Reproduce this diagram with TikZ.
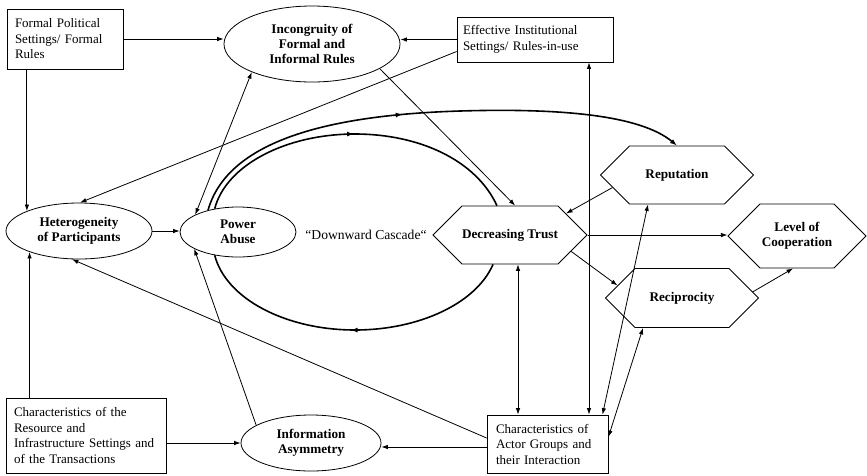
\documentclass[tikz,border=0pt]{standalone}
\usepackage{fontspec}
\setmainfont{Liberation Serif}
\usetikzlibrary{shapes.geometric,shapes.symbols,arrows.meta,decorations.markings,calc}
\begin{document}
\begin{tikzpicture}[x=1pt,y=-1pt,
  ln/.style={line width=0.8pt},
  arr/.style={ln,-{Latex[length=6.5pt,width=4.5pt]}},
  darr/.style={ln,{Latex[length=6.5pt,width=4.5pt]}-{Latex[length=6.5pt,width=4.5pt]}},
  casc/.style={line width=1.6pt},
  midarrow/.style={postaction={decorate},decoration={markings,mark=at position #1 with {\arrow{Latex[length=7pt,width=5pt]}}}},
  box/.style={draw,line width=0.8pt,rectangle,align=left,font=\fontsize{13}{15.5}\selectfont,inner ysep=2pt},
  ell/.style={draw,line width=0.8pt,ellipse,inner sep=0pt,align=center,font=\fontsize{13.2}{14.8}\selectfont\bfseries},
  hex/.style={draw,line width=0.8pt,signal,signal to=west and east,signal pointer angle=90,inner sep=0pt,align=center,font=\fontsize{13.2}{14.8}\selectfont\bfseries},
]
\useasboundingbox (0,0) rectangle (867,475);

% nodes
\node[box,inner xsep=8pt,text width=100pt,minimum height=60pt] (FP) at (65,39) {Formal Political\\Settings/ Formal\\Rules};
\node[ell,minimum width=176pt,minimum height=76pt] (INC) at (312,44) {Incongruity of\\Formal and\\Informal Rules};
\node[box,inner xsep=6pt,text width=144pt,minimum height=45pt] (EIS) at (535,39.5) {Effective Institutional\\Settings/ Rules-in-use};
\node[ell,minimum width=146pt,minimum height=56pt] (HET) at (79,231) {Heterogeneity\\of Participants};
\node[ell,minimum width=116pt,minimum height=50pt] (PA) at (238,232) {Power\\Abuse};
\node[font=\fontsize{13.6}{15.5}\selectfont] (DC) at (366,235) {“Downward Cascade“};
\node[hex,minimum width=151pt,minimum height=58pt] (DT) at (510,235) {Decreasing Trust};
\node[hex,minimum width=153pt,minimum height=58pt] (REP) at (677,175) {Reputation};
\node[hex,minimum width=138pt,minimum height=64pt] (LOC) at (797,236) {Level of\\Cooperation};
\node[hex,minimum width=153pt,minimum height=59pt] (REC) at (682,298) {Reciprocity};
\node[box,inner xsep=8pt,text width=144pt,minimum height=75pt] (CRIS) at (86,435.5) {Characteristics of the\\Resource and\\Infrastructure Settings and\\of the Transactions};
\node[ell,minimum width=140pt,minimum height=56pt] (IA) at (311,443) {Information\\Asymmetry};
\node[box,inner xsep=9pt,text width=103pt,minimum height=58pt] (CAG) at (547.5,444) {Characteristics of\\Actor Groups and\\their Interaction};

% connectors
\draw[arr] (FP.east) -- (FP.east -| INC.west);
\draw[arr] (FP.south -| HET.159) -- (HET.159);
\draw[arr] (EIS.west) -- (EIS.west -| INC.east);
\draw[arr] ([yshift=-12pt]EIS.west) -- (HET.88);
\draw[arr] (INC.-20) -- (DT.80);
\draw[darr] (PA.158) -- (INC.205);
\draw[arr] (HET.east) -- (HET.east -| PA.west);
\draw[arr] (CRIS.north -| HET.203) -- (HET.203);
\draw[arr] (IA.west -| CRIS.east) -- (IA.west);
\draw[arr] (IA.162) -- (PA.201);
\draw[arr] ([yshift=6pt]CAG.west) -- (HET.256);
\draw[arr] ([yshift=-3pt]CAG.west) -- ([yshift=-3pt]CAG.west -| IA.east);
\draw[darr] ([xshift=8pt]DT.south) -- ([xshift=8pt]DT.south |- CAG.north);
\draw[darr] ([xshift=54pt]EIS.south) -- ([xshift=54pt]EIS.south |- CAG.north);
\draw[arr] (REP.191) -- (DT.21);
\draw[arr] (DT.east) -- (DT.east -| LOC.west);
\draw[arr] (DT.-15) -- (REC.169);
\draw[arr] (REC.5) -- (LOC.263);
\draw[darr] ([xshift=55pt]CAG.north) -- ([xshift=-29pt]REP.south);
\draw[darr] ([yshift=7pt]CAG.east) -- ([xshift=-39pt]REC.south);

% downward cascade loop
\draw[casc,midarrow=0.5] (PA.135) .. controls (226,165) and (286,134) .. (355,134) .. controls (419,134) and (476,160) .. (DT.114);
\draw[casc,midarrow=0.5] (DT.240) .. controls (476,303.5) and (419,330) .. (355,330) .. controls (286,330) and (226,299) .. (PA.225);
% outer curve to reputation
\draw[casc,midarrow=0.45,-{Latex[length=7pt,width=5pt]}] (PA.144) .. controls (228,140) and (330,115) .. (460,111) .. controls (560,108) and (640,115) .. (REP.north);
\end{tikzpicture}
\end{document}
